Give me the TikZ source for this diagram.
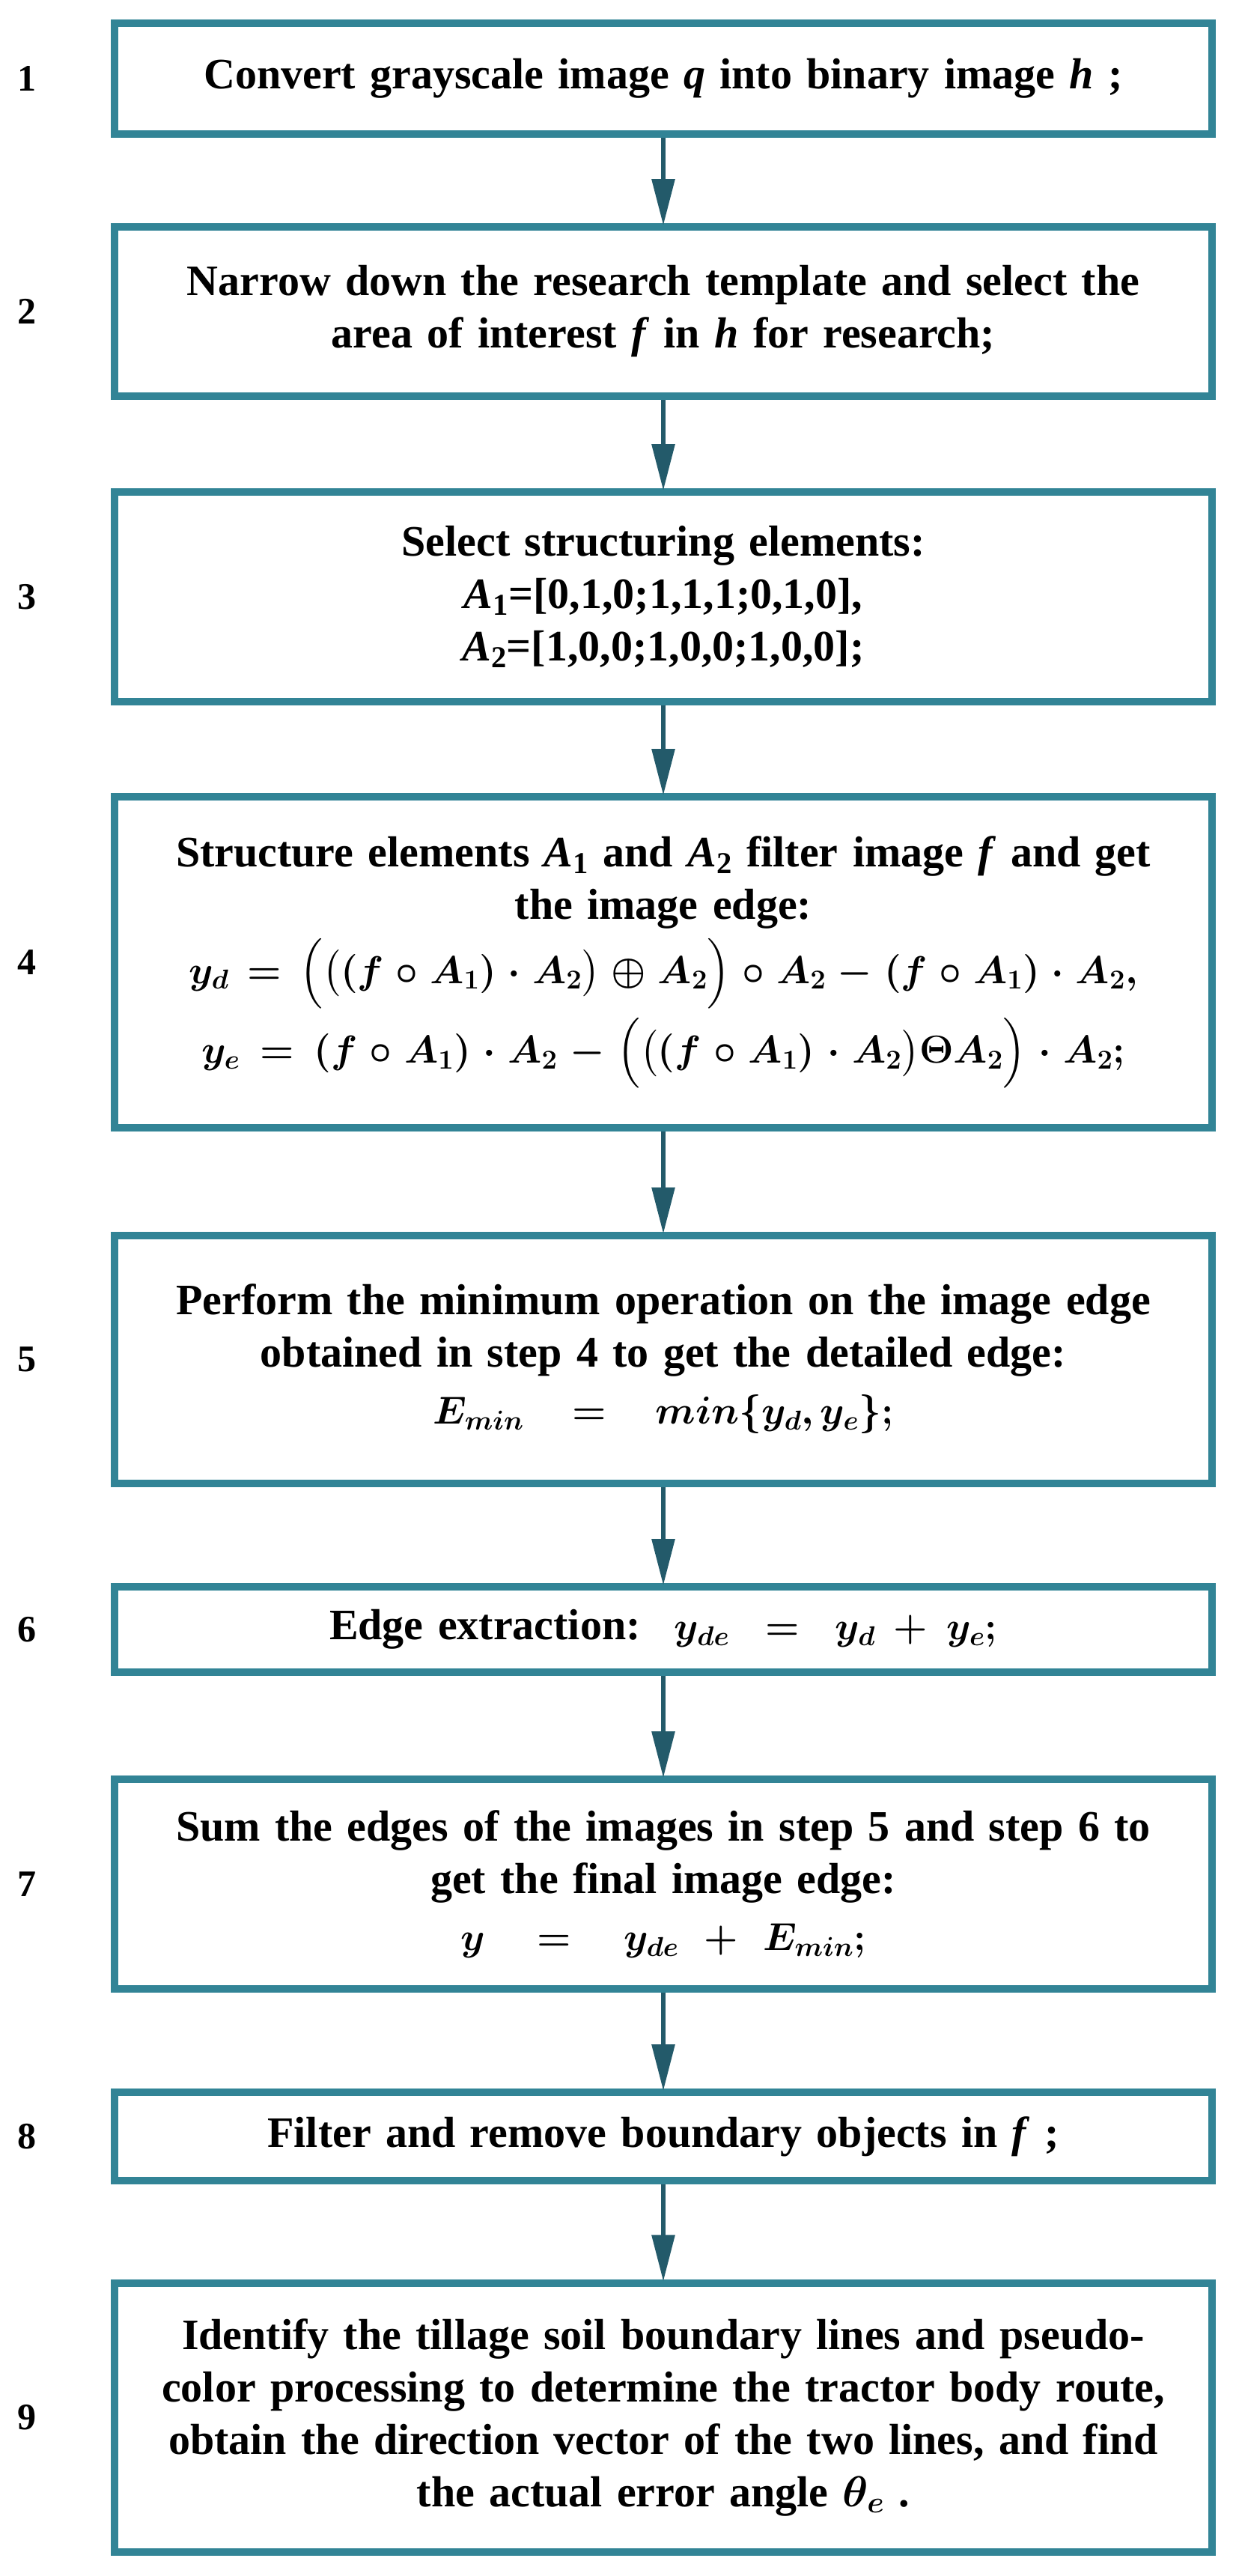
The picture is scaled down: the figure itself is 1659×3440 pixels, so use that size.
\RequirePackage{fix-cm}
\documentclass[tikz,border=0pt]{standalone}
\usepackage{amsmath,amssymb,bm}
\usepackage{fontspec}
\setmainfont{Liberation Serif}
\usetikzlibrary{arrows.meta}
\definecolor{boxc}{HTML}{328496}
\definecolor{arrc}{HTML}{235A6A}
\newcommand{\fsz}{\fontsize{52}{66}\selectfont}
\begin{document}
\begin{tikzpicture}[x=1pt,y=-1pt,
  box/.style={draw=boxc,line width=10pt,minimum width=1466pt,inner sep=0pt,
    align=center,text width=1430pt,font=\fontsize{58}{70}\selectfont\bfseries},
  num/.style={font=\fontsize{50}{58}\selectfont\bfseries},
  arr/.style={draw=arrc,line width=6pt,-{Triangle[length=62pt,width=30pt]},shorten >=-3pt}]
\useasboundingbox (0,0) rectangle (1659,3440);
\node[box,minimum height=148pt] (b1) at (886,105) {Convert grayscale image \textit{q} into binary image \textit{h} ;};
\node[box,minimum height=226pt] (b2) at (886,416) {Narrow down the research template and select the\\ area of interest \textit{f} in \textit{h} for research;};
\node[box,minimum height=280pt] (b3) at (886,797) {Select structuring elements:\\ \textit{A}\textsubscript{1}=[0,1,0;1,1,1;0,1,0],\\ \textit{A}\textsubscript{2}=[1,0,0;1,0,0;1,0,0];};
\node[box,minimum height=442pt] (b4) at (886,1285) {Structure elements \textit{A}\textsubscript{1} and \textit{A}\textsubscript{2} filter image \textit{f} and get\\ the image edge:\\[12pt]
{\fsz$\bm{y_d=\Bigl(\bigl((f\circ A_1)\cdot A_2\bigr)\oplus A_2\Bigr)\circ A_2-(f\circ A_1)\cdot A_2,}$}\\[12pt]
{\fsz$\bm{y_e=(f\circ A_1)\cdot A_2-\Bigl(\bigl((f\circ A_1)\cdot A_2\bigr)\Theta A_2\Bigr)\cdot A_2;}$}};
\node[box,minimum height=331pt] (b5) at (886,1815) {Perform the minimum operation on the image edge\\ obtained in step 4 to get the detailed edge:\\[6pt]
{\fsz$\bm{E_{min}=min\{y_d,y_e\};}$}};
\node[box,minimum height=114pt] (b6) at (886,2176) {Edge extraction:\; {\fsz$\bm{y_{de}=y_d+y_e;}$}};
\node[box,minimum height=280pt] (b7) at (886,2516) {Sum the edges of the images in step 5 and step 6 to\\ get the final image edge:\\[6pt]
{\fsz$\bm{y=y_{de}+E_{min};}$}};
\node[box,minimum height=118pt] (b8) at (886,2853) {Filter and remove boundary objects in \textit{f} ;};
\node[box,minimum height=359pt] (b9) at (886,3228) {Identify the tillage soil boundary lines and pseudo-\\ color processing to determine the tractor body route,\\ obtain the direction vector of the two lines, and find\\ the actual error angle $\bm{\theta_e}$ .};
\foreach \i/\y in {1/105,2/416,3/797,4/1285,5/1815,6/2176,7/2516,8/2853,9/3228}
  \node[num] (n\i) at (36,\y) {\i};
\draw[arr] (b1) -- (b2);
\draw[arr] (b2) -- (b3);
\draw[arr] (b3) -- (b4);
\draw[arr] (b4) -- (b5);
\draw[arr] (b5) -- (b6);
\draw[arr] (b6) -- (b7);
\draw[arr] (b7) -- (b8);
\draw[arr] (b8) -- (b9);
\end{tikzpicture}
\end{document}
